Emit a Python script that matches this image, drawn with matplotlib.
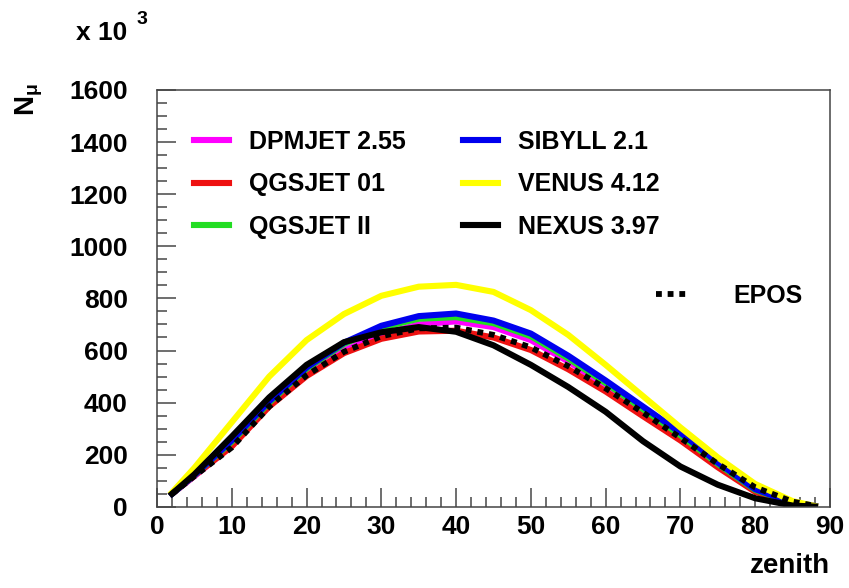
import matplotlib
matplotlib.use("Agg")
import matplotlib.pyplot as plt
import numpy as np

plt.rcParams['font.family'] = ['Liberation Sans', 'DejaVu Sans']
plt.rcParams['font.weight'] = 'bold'
plt.rcParams['mathtext.fontset'] = 'custom'
plt.rcParams['mathtext.rm'] = 'Liberation Sans:bold'
plt.rcParams['mathtext.it'] = 'Liberation Sans:bold'
plt.rcParams['mathtext.bf'] = 'Liberation Sans:bold'

# zenith angle (deg)
zenith = [2, 5, 10, 15, 20, 25, 30, 35, 40, 45, 50, 55, 60, 65, 70, 75, 80, 85, 88]

# number of muons (x 10^3) for each model
dpmjet = [50, 118, 235, 390, 510, 600, 662, 700, 712, 690, 640, 558, 465, 365, 265, 160, 62, 14, 3]
qgsjet01 = [50, 120, 232, 385, 502, 590, 645, 673, 676, 650, 602, 528, 443, 348, 255, 152, 58, 13, 3]
qgsjet2 = [50, 122, 250, 400, 530, 625, 688, 722, 728, 705, 655, 570, 475, 375, 275, 165, 65, 15, 3]
sibyll = [50, 122, 255, 405, 535, 630, 695, 732, 742, 715, 665, 580, 485, 385, 285, 170, 68, 15, 3]
venus = [55, 150, 325, 500, 640, 740, 810, 845, 852, 825, 755, 660, 545, 425, 305, 190, 88, 22, 3]
nexus = [50, 125, 270, 420, 545, 632, 670, 690, 672, 620, 545, 460, 365, 252, 155, 85, 33, 5, 1]
epos = [50, 118, 228, 385, 505, 595, 655, 685, 688, 660, 612, 540, 455, 362, 265, 165, 75, 20, 4]

models = [
    ("DPMJET 2.55", dpmjet, "#ff00ff"),
    ("QGSJET 01", qgsjet01, "#ee1111"),
    ("QGSJET II", qgsjet2, "#22dd22"),
    ("SIBYLL 2.1", sibyll, "#0000ee"),
    ("VENUS 4.12", venus, "#ffff00"),
    ("NEXUS 3.97", nexus, "#000000"),
]

fig = plt.figure(figsize=(8.49, 5.88), dpi=100)
ax = fig.add_axes([0.185, 0.138, 0.7925, 0.709])

handles = []
for name, vals, col in models:
    ln, = ax.plot(zenith, vals, color=col, lw=4.4, label=name,
                  solid_joinstyle='round')
    handles.append(ln)
ep, = ax.plot(zenith, epos, color='black', lw=4.2, dashes=(1.0, 1.0), label="EPOS")

ax.set_xlim(0, 90)
ax.set_ylim(0, 1600)
ax.set_xticks(np.arange(0, 91, 10))
ax.set_xticks(np.arange(0, 91, 2), minor=True)
ax.set_yticks(np.arange(0, 1601, 200))
ax.set_yticks(np.arange(0, 1601, 50), minor=True)
ax.tick_params(which='both', direction='in', color='#555555', width=1.2)
ax.tick_params(which='major', length=14)
ax.tick_params(which='minor', length=7)
ax.tick_params(axis='y', which='both', pad=21, labelsize=19)
ax.tick_params(axis='x', which='both', pad=6, labelsize=19)
for lab in ax.get_xticklabels() + ax.get_yticklabels():
    lab.set_fontweight('bold')
for sp in ax.spines.values():
    sp.set_linewidth(1.1)
    sp.set_color('#444444')

ax.set_xlabel("zenith", fontsize=20, fontweight='bold', loc='right', labelpad=10)
fig.text(0.016, 0.83, r"N$_{\mathrm{μ}}$", rotation=90, fontsize=20,
         ha='left', va='center')
fig.text(0.090, 0.944, "x 10", fontsize=19, fontweight='bold', ha='left', va='center')
fig.text(0.161, 0.966, "3", fontsize=14, fontweight='bold', ha='left', va='center')

leg1 = ax.legend(handles=handles, ncol=2, loc='upper left', bbox_to_anchor=(0.055, 0.905),
                 frameon=False, fontsize=18, handlelength=1.4, handletextpad=0.8,
                 columnspacing=2.3, labelspacing=0.75, borderpad=0, borderaxespad=0)
ax.add_artist(leg1)
ax.legend(handles=[ep], loc='upper right', bbox_to_anchor=(0.96, 0.535), frameon=False,
          fontsize=18, handlelength=1.4, handletextpad=1.7, borderpad=0, borderaxespad=0)

fig.savefig("out.png", dpi=100)
